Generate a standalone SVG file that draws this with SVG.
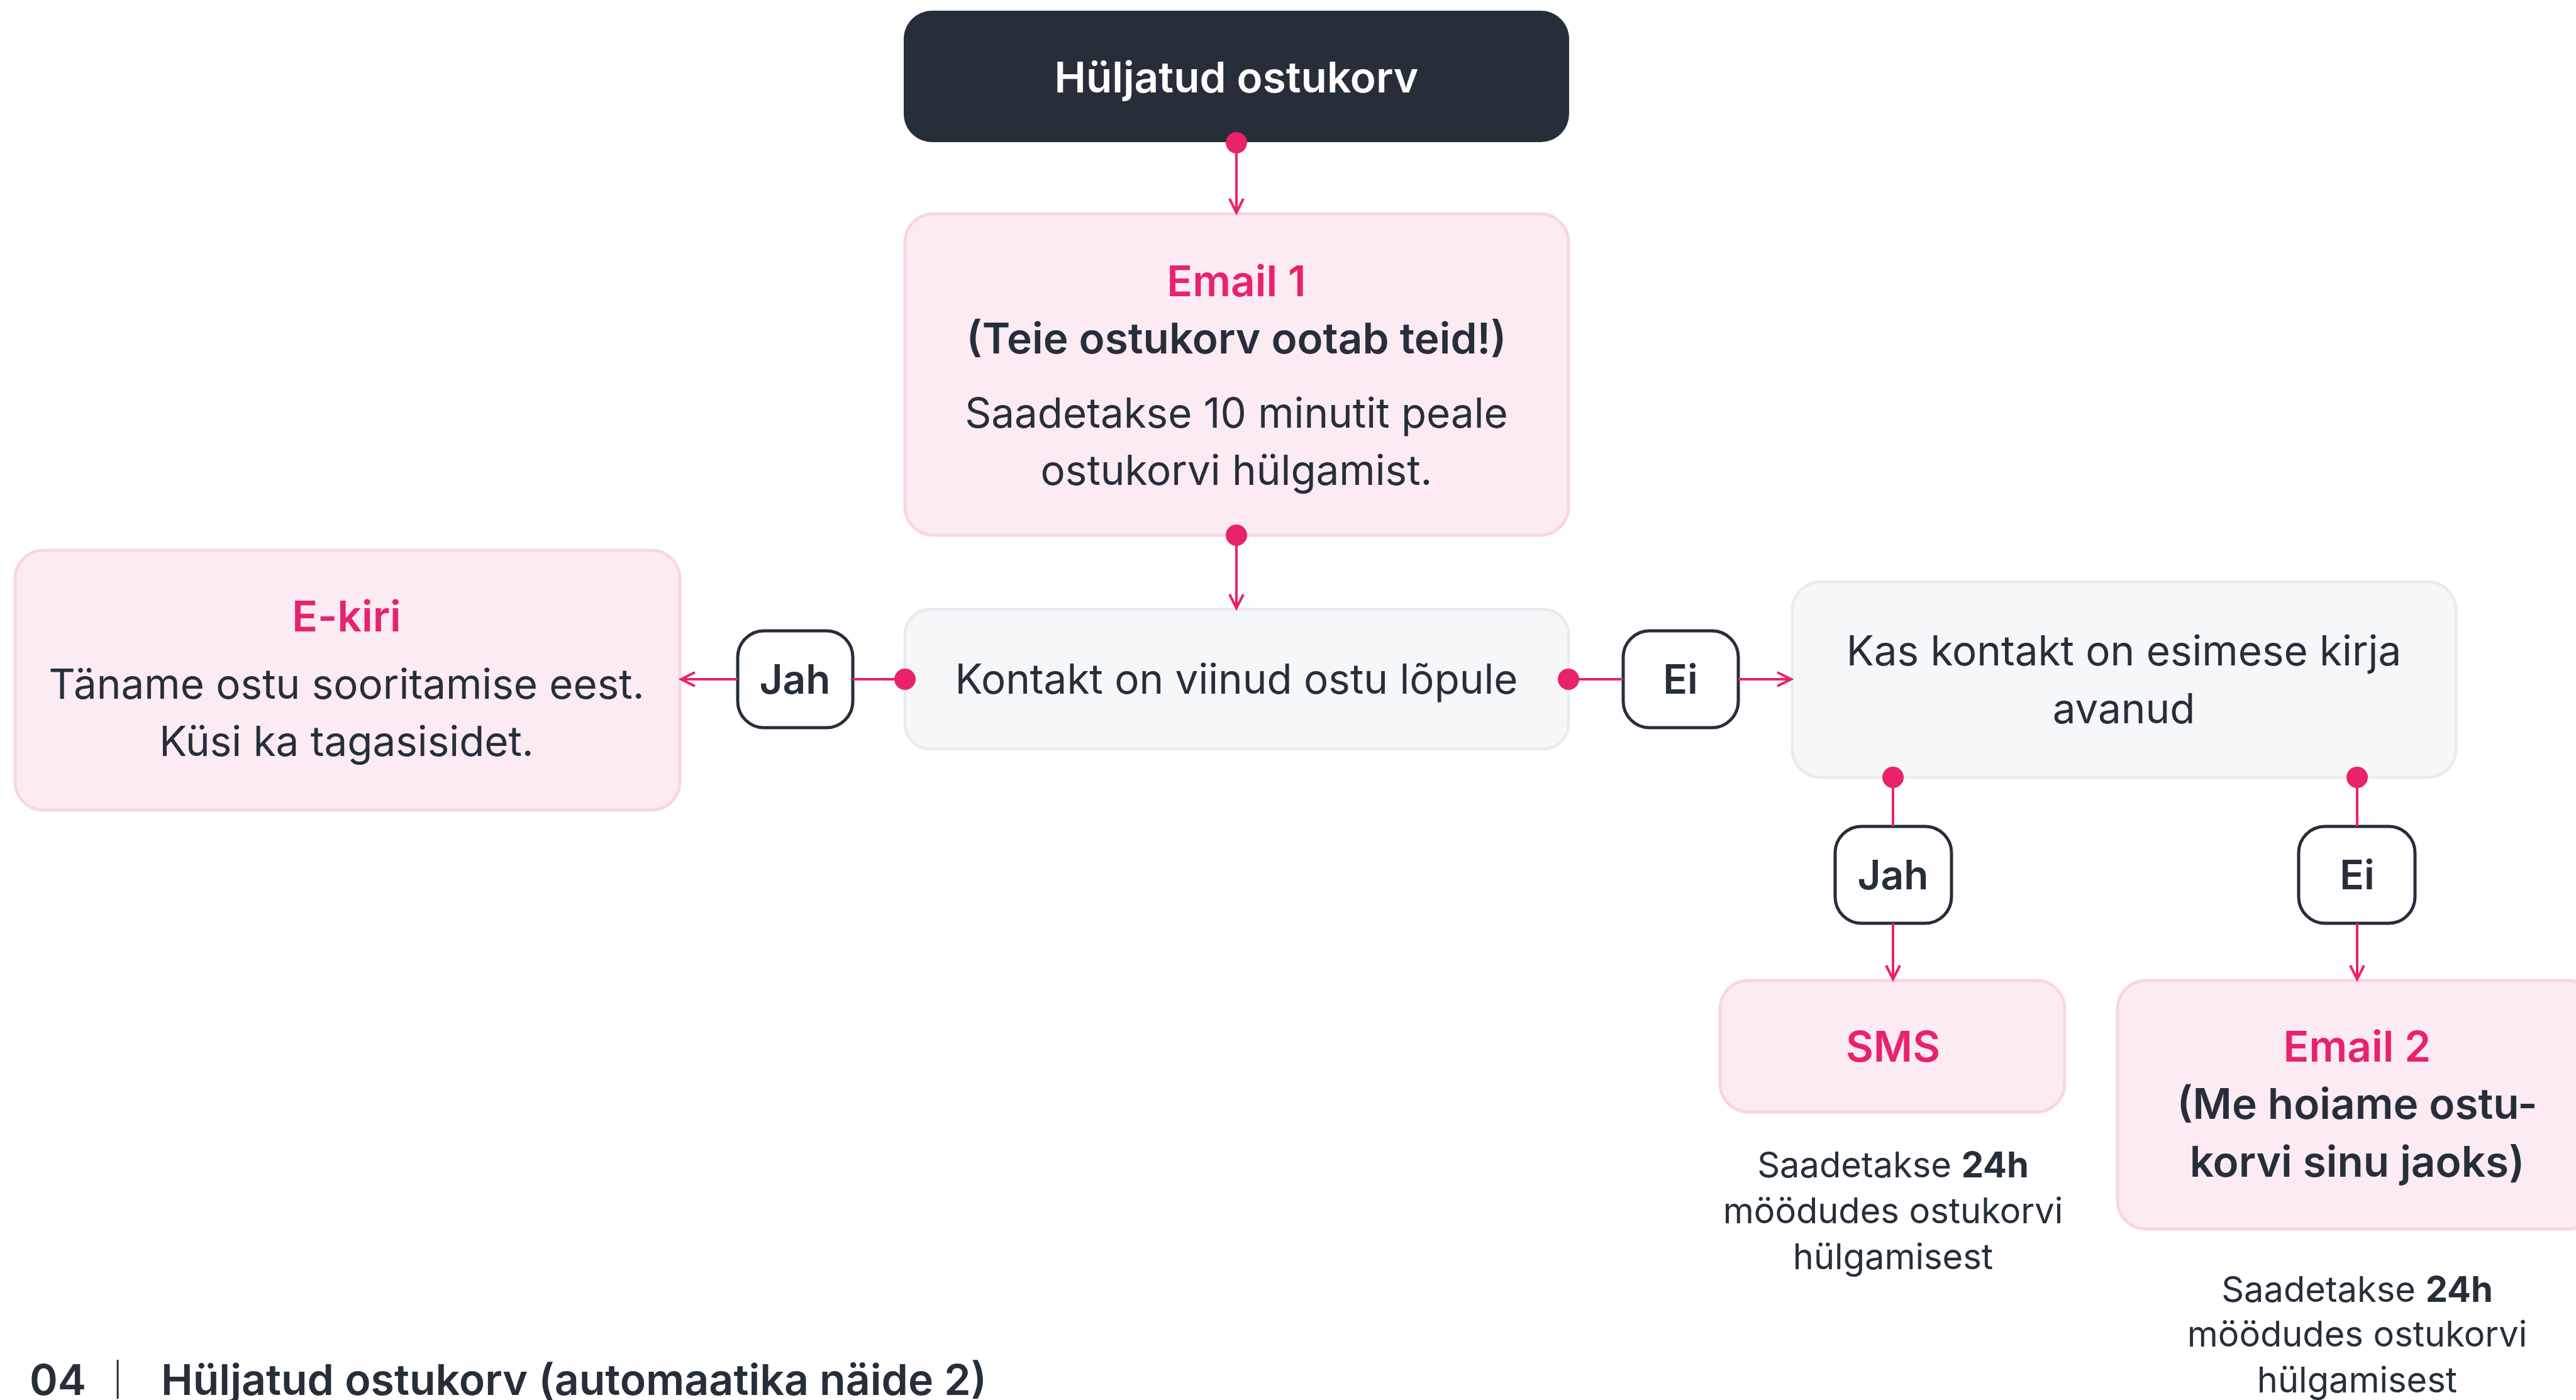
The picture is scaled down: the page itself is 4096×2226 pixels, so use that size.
<svg xmlns="http://www.w3.org/2000/svg" width="4096" height="2226" viewBox="0 0 4096 2226">
<defs>
<style>
text{font-family:Inter,"Noto Sans","Liberation Sans",sans-serif;text-anchor:middle;fill:#262F39}
.t{font-size:67.5px;font-weight:600}
.b{font-size:65.5px;font-weight:400}
.p{fill:#E8236A}
.s{font-size:56px;font-weight:400}
.pink{fill:#FCEBF3;stroke:#FAD5E3;stroke-width:5}
.gray{fill:#F6F7F9;stroke:#E9ECEF;stroke-width:5}
.dec{fill:#FFFFFF;stroke:#262F39;stroke-width:5}
.c{stroke:#E8236A;stroke-width:4;fill:none}
.dot{fill:#E8236A}
</style>
<marker id="ah" markerUnits="userSpaceOnUse" markerWidth="30" markerHeight="30" viewBox="0 0 30 30" refX="26" refY="15" orient="auto">
<path d="M4 4 L26 15 L4 26" fill="none" stroke="#E8236A" stroke-width="4"/>
</marker>
</defs>
<rect width="4096" height="2226" fill="#FFFFFF"/>

<g id="n-start">
<rect x="1437" y="17" width="1058" height="209" rx="45" fill="#262F39"/>
<text x="1966" y="147" class="t" style="fill:#FFFFFF">Hüljatud ostukorv</text>
</g>

<g id="n-email1">
<rect x="1439" y="340" width="1055" height="511" rx="45" class="pink"/>
<text x="1966" y="471" class="t p">Email 1</text>
<text x="1966" y="562" class="t">(Teie ostukorv ootab teid!)</text>
<text x="1966" y="680" class="b">Saadetakse 10 minutit peale</text>
<text x="1966" y="771" class="b">ostukorvi hülgamist.</text>
</g>

<g id="n-kontakt">
<rect x="1439" y="969" width="1055" height="222" rx="40" class="gray"/>
<text x="1966" y="1103" class="b">Kontakt on viinud ostu lõpule</text>
</g>

<g id="n-jah1">
<rect x="1173" y="1003" width="183" height="154" rx="42" class="dec"/>
<text x="1264" y="1103" class="t" style="font-size:64px">Jah</text>
</g>

<g id="n-ekiri">
<rect x="24" y="875" width="1057" height="413" rx="45" class="pink"/>
<text x="551" y="1004" class="t p">E-kiri</text>
<text x="551" y="1111" class="b">Täname ostu sooritamise eest.</text>
<text x="551" y="1202" class="b">Küsi ka tagasisidet.</text>
</g>

<g id="n-ei1">
<rect x="2581" y="1003" width="183" height="154" rx="42" class="dec"/>
<text x="2672" y="1103" class="t" style="font-size:64px">Ei</text>
</g>

<g id="n-kas">
<rect x="2850" y="925" width="1055" height="311" rx="45" class="gray"/>
<text x="3377" y="1058" class="b">Kas kontakt on esimese kirja</text>
<text x="3377" y="1150" class="b">avanud</text>
</g>

<g id="n-jah2">
<rect x="2918" y="1314" width="185" height="154" rx="42" class="dec"/>
<text x="3010" y="1414" class="t" style="font-size:64px">Jah</text>
</g>

<g id="n-ei2">
<rect x="3655" y="1314" width="185" height="154" rx="42" class="dec"/>
<text x="3748" y="1414" class="t" style="font-size:64px">Ei</text>
</g>

<g id="n-sms">
<rect x="2735" y="1559" width="548" height="209" rx="45" class="pink"/>
<text x="3010" y="1688" class="t p">SMS</text>
<text x="3010" y="1872" class="s">Saadetakse <tspan font-weight="700">24h</tspan></text>
<text x="3010" y="1945" class="s">möödudes ostukorvi</text>
<text x="3010" y="2018" class="s">hülgamisest</text>
</g>

<g id="n-email2">
<rect x="3367" y="1559" width="762" height="395" rx="45" class="pink"/>
<text x="3748" y="1688" class="t p">Email 2</text>
<text x="3748" y="1779" class="t">(Me hoiame ostu-</text>
<text x="3748" y="1871" class="t">korvi sinu jaoks)</text>
<text x="3748" y="2070" class="s">Saadetakse <tspan font-weight="700">24h</tspan></text>
<text x="3748" y="2141" class="s">möödudes ostukorvi</text>
<text x="3748" y="2214" class="s">hülgamisest</text>
</g>

<g id="connectors">
<line x1="1966" y1="227" x2="1966" y2="338" class="c" marker-end="url(#ah)"/>
<line x1="1966" y1="851" x2="1966" y2="967" class="c" marker-end="url(#ah)"/>
<line x1="1439" y1="1080" x2="1356" y2="1080" class="c"/>
<line x1="1173" y1="1080" x2="1083" y2="1080" class="c" marker-end="url(#ah)"/>
<line x1="2494" y1="1080" x2="2581" y2="1080" class="c"/>
<line x1="2764" y1="1080" x2="2848" y2="1080" class="c" marker-end="url(#ah)"/>
<line x1="3010" y1="1236" x2="3010" y2="1314" class="c"/>
<line x1="3010" y1="1468" x2="3010" y2="1557" class="c" marker-end="url(#ah)"/>
<line x1="3748" y1="1236" x2="3748" y2="1314" class="c"/>
<line x1="3748" y1="1468" x2="3748" y2="1557" class="c" marker-end="url(#ah)"/>
<circle cx="1966" cy="227" r="17" class="dot"/>
<circle cx="1966" cy="851" r="17" class="dot"/>
<circle cx="1439" cy="1080" r="17" class="dot"/>
<circle cx="2494" cy="1080" r="17" class="dot"/>
<circle cx="3010" cy="1236" r="17" class="dot"/>
<circle cx="3748" cy="1236" r="17" class="dot"/>
</g>

<g id="footer">
<text x="47" y="2218" style="font-size:68px;font-weight:600;text-anchor:start">04</text>
<text x="187" y="2212" style="font-size:52px;font-weight:300;text-anchor:middle">|</text>
<text x="256" y="2218" style="font-size:68px;font-weight:600;text-anchor:start">Hüljatud ostukorv (automaatika näide 2)</text>
</g>
</svg>
